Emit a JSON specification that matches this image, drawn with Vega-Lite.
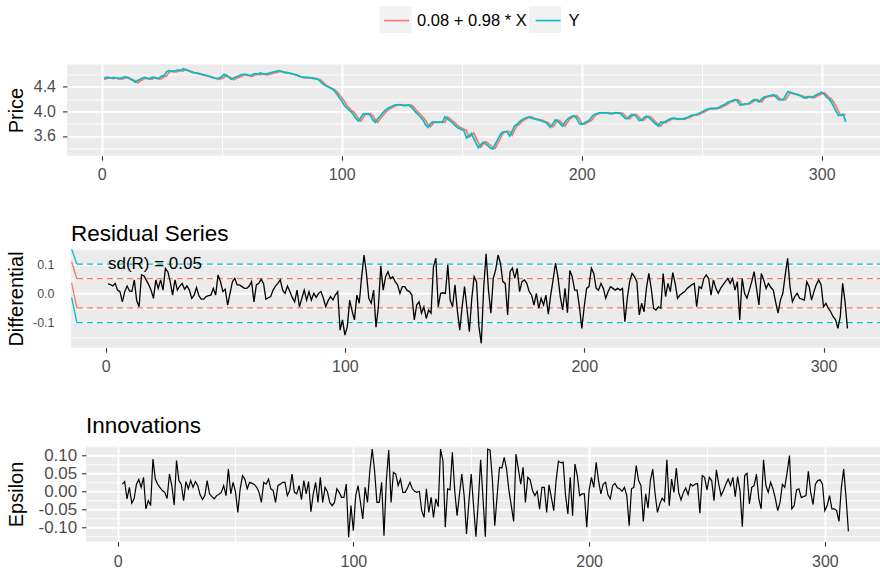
{
"$schema": "https://vega.github.io/schema/vega-lite/v6.json",
"background": "white",
"padding": {"left": 0, "top": 2.4, "right": 0, "bottom": 0},
"spacing": 39.9,
"align": "none",
"config": {
  "font": "Liberation Sans",
  "view": {"stroke": null, "fill": "#EBEBEB"},
  "axis": {"domain": false, "gridColor": "white", "tickColor": "#333333", "tickSize": 4.5, "tickWidth": 1.1, "labelColor": "#4D4D4D", "labelFont": "Liberation Sans", "labelFontSize": 16, "labelOverlap": false, "labelFlush": false, "labelBound": false, "titleFont": "Liberation Sans", "titleFontSize": 20, "titleFontWeight": "normal", "titleColor": "black"},
  "title": {"font": "Liberation Sans", "fontSize": 22.5, "fontWeight": "normal", "color": "black", "anchor": "start", "frame": "group", "baseline": "alphabetic"},
  "legend": {"labelFont": "Liberation Sans", "labelFontSize": 16.5, "labelColor": "black", "padding": 0}
},
"datasets": {
"ts": [
{"t":1,"Y":4.54,"F":4.52,"R":0.032},
{"t":2,"Y":4.55,"F":4.53,"R":0.030,"E":0.020},
{"t":3,"Y":4.55,"F":4.54,"R":0.025,"E":0.027},
{"t":4,"Y":4.54,"F":4.54,"R":0.034,"E":-0.021},
{"t":5,"Y":4.55,"F":4.53,"R":0.011,"E":0.011},
{"t":6,"Y":4.54,"F":4.54,"R":0.006,"E":-0.033},
{"t":7,"Y":4.53,"F":4.53,"R":-0.029,"E":-0.021},
{"t":8,"Y":4.54,"F":4.52,"R":0.006,"E":0.020},
{"t":9,"Y":4.55,"F":4.53,"R":0.025,"E":0.033},
{"t":10,"Y":4.56,"F":4.54,"R":0.008,"E":0.011},
{"t":11,"Y":4.54,"F":4.55,"R":0.006,"E":0.039},
{"t":12,"Y":4.52,"F":4.53,"R":0.046,"E":-0.049},
{"t":13,"Y":4.50,"F":4.51,"R":-0.025,"E":-0.026},
{"t":14,"Y":4.47,"F":4.49,"R":-0.046,"E":-0.040},
{"t":15,"Y":4.50,"F":4.46,"R":0.063,"E":0.090},
{"t":16,"Y":4.52,"F":4.49,"R":0.060,"E":0.034},
{"t":17,"Y":4.54,"F":4.51,"R":0.045,"E":0.020},
{"t":18,"Y":4.55,"F":4.53,"R":0.030,"E":0.010},
{"t":19,"Y":4.53,"F":4.54,"R":0.011,"E":0.002},
{"t":20,"Y":4.53,"F":4.52,"R":-0.017,"E":-0.003},
{"t":21,"Y":4.55,"F":4.52,"R":0.046,"E":-0.020},
{"t":22,"Y":4.55,"F":4.54,"R":0.017,"E":0.048},
{"t":23,"Y":4.53,"F":4.54,"R":0.046,"E":0.016},
{"t":24,"Y":4.54,"F":4.52,"R":0.011,"E":-0.038},
{"t":25,"Y":4.57,"F":4.53,"R":0.085,"E":0.086},
{"t":26,"Y":4.58,"F":4.56,"R":0.074,"E":0.030},
{"t":27,"Y":4.64,"F":4.57,"R":0.040,"E":0.020},
{"t":28,"Y":4.66,"F":4.63,"R":-0.006,"E":-0.026},
{"t":29,"Y":4.65,"F":4.65,"R":0.046,"E":0.027},
{"t":30,"Y":4.65,"F":4.64,"R":0.011,"E":0.007},
{"t":31,"Y":4.66,"F":4.64,"R":0.025,"E":0.030},
{"t":32,"Y":4.67,"F":4.65,"R":0.034,"E":0.011},
{"t":33,"Y":4.66,"F":4.66,"R":0.014,"E":0.027},
{"t":34,"Y":4.69,"F":4.65,"R":0.025,"E":0.016},
{"t":35,"Y":4.67,"F":4.68,"R":0.011,"E":-0.010},
{"t":36,"Y":4.66,"F":4.66,"R":-0.017,"E":-0.023},
{"t":37,"Y":4.64,"F":4.65,"R":-0.006,"E":-0.012},
{"t":38,"Y":4.63,"F":4.63,"R":0.020,"E":0.030},
{"t":39,"Y":4.62,"F":4.62,"R":-0.009,"E":-0.007},
{"t":40,"Y":4.62,"F":4.61,"R":-0.020,"E":-0.015},
{"t":41,"Y":4.60,"F":4.61,"R":-0.020,"E":-0.021},
{"t":42,"Y":4.60,"F":4.59,"R":-0.011,"E":-0.012},
{"t":43,"Y":4.58,"F":4.59,"R":-0.008,"E":-0.008},
{"t":44,"Y":4.58,"F":4.57,"R":-0.006,"E":-0.003},
{"t":45,"Y":4.56,"F":4.57,"R":0.017,"E":0.016},
{"t":46,"Y":4.55,"F":4.55,"R":-0.006,"E":-0.012},
{"t":47,"Y":4.54,"F":4.54,"R":0.063,"E":0.062},
{"t":48,"Y":4.53,"F":4.53,"R":0.040,"E":-0.007},
{"t":49,"Y":4.54,"F":4.52,"R":0.006,"E":0.025},
{"t":50,"Y":4.56,"F":4.53,"R":0.014,"E":-0.001},
{"t":51,"Y":4.60,"F":4.55,"R":-0.040,"E":-0.059},
{"t":52,"Y":4.57,"F":4.59,"R":0.000,"E":0.007},
{"t":53,"Y":4.55,"F":4.56,"R":0.040,"E":0.044},
{"t":54,"Y":4.52,"F":4.54,"R":0.051,"E":0.034},
{"t":55,"Y":4.54,"F":4.51,"R":0.029,"E":0.007},
{"t":56,"Y":4.56,"F":4.53,"R":0.029,"E":0.025},
{"t":57,"Y":4.57,"F":4.55,"R":0.023,"E":0.022},
{"t":58,"Y":4.59,"F":4.56,"R":0.017,"E":0.019},
{"t":59,"Y":4.60,"F":4.58,"R":0.017,"E":0.011},
{"t":60,"Y":4.60,"F":4.59,"R":0.025,"E":-0.003},
{"t":61,"Y":4.58,"F":4.59,"R":0.040,"E":-0.031},
{"t":62,"Y":4.58,"F":4.57,"R":-0.029,"E":0.025},
{"t":63,"Y":4.60,"F":4.57,"R":0.029,"E":0.020},
{"t":64,"Y":4.61,"F":4.59,"R":0.034,"E":0.034},
{"t":65,"Y":4.60,"F":4.60,"R":0.048,"E":0.007},
{"t":66,"Y":4.62,"F":4.59,"R":0.034,"E":0.002},
{"t":67,"Y":4.61,"F":4.61,"R":-0.020,"E":-0.031},
{"t":68,"Y":4.60,"F":4.60,"R":-0.015,"E":0.016},
{"t":69,"Y":4.61,"F":4.59,"R":-0.011,"E":0.020},
{"t":70,"Y":4.62,"F":4.60,"R":0.011,"E":0.025},
{"t":71,"Y":4.63,"F":4.61,"R":0.025,"E":0.025},
{"t":72,"Y":4.64,"F":4.62,"R":0.034,"E":-0.012},
{"t":73,"Y":4.65,"F":4.63,"R":0.046,"E":0.002},
{"t":74,"Y":4.66,"F":4.64,"R":0.011,"E":0.048},
{"t":75,"Y":4.64,"F":4.65,"R":0.000,"E":-0.003},
{"t":76,"Y":4.63,"F":4.63,"R":0.025,"E":-0.007},
{"t":77,"Y":4.63,"F":4.62,"R":0.006,"E":0.016},
{"t":78,"Y":4.62,"F":4.62,"R":-0.014,"E":-0.023},
{"t":79,"Y":4.61,"F":4.61,"R":-0.029,"E":0.030},
{"t":80,"Y":4.60,"F":4.60,"R":0.011,"E":-0.007},
{"t":81,"Y":4.59,"F":4.59,"R":-0.046,"E":0.027},
{"t":82,"Y":4.57,"F":4.58,"R":-0.017,"E":-0.057},
{"t":83,"Y":4.56,"F":4.56,"R":0.011,"E":-0.007},
{"t":84,"Y":4.55,"F":4.55,"R":-0.023,"E":0.025},
{"t":85,"Y":4.55,"F":4.54,"R":0.006,"E":-0.031},
{"t":86,"Y":4.55,"F":4.54,"R":-0.023,"E":0.039},
{"t":87,"Y":4.54,"F":4.54,"R":0.000,"E":-0.031},
{"t":88,"Y":4.54,"F":4.53,"R":-0.014,"E":0.011},
{"t":89,"Y":4.53,"F":4.53,"R":0.000,"E":-0.001},
{"t":90,"Y":4.52,"F":4.52,"R":0.006,"E":-0.031},
{"t":91,"Y":4.49,"F":4.51,"R":-0.017,"E":-0.040},
{"t":92,"Y":4.45,"F":4.48,"R":-0.046,"E":-0.031},
{"t":93,"Y":4.42,"F":4.44,"R":-0.025,"E":0.007},
{"t":94,"Y":4.40,"F":4.41,"R":-0.011,"E":-0.003},
{"t":95,"Y":4.38,"F":4.39,"R":-0.023,"E":-0.017},
{"t":96,"Y":4.36,"F":4.37,"R":-0.006,"E":-0.017},
{"t":97,"Y":4.33,"F":4.35,"R":0.006,"E":0.020},
{"t":98,"Y":4.28,"F":4.32,"R":-0.126,"E":-0.128},
{"t":99,"Y":4.22,"F":4.27,"R":-0.091,"E":-0.040},
{"t":100,"Y":4.17,"F":4.22,"R":-0.143,"E":-0.110},
{"t":101,"Y":4.10,"F":4.17,"R":-0.114,"E":-0.012},
{"t":102,"Y":4.06,"F":4.10,"R":-0.023,"E":0.016},
{"t":103,"Y":4.02,"F":4.06,"R":-0.060,"E":-0.030},
{"t":104,"Y":3.99,"F":4.02,"R":-0.091,"E":-0.077},
{"t":105,"Y":3.94,"F":3.99,"R":-0.006,"E":0.011},
{"t":106,"Y":3.88,"F":3.94,"R":-0.034,"E":-0.031},
{"t":107,"Y":3.84,"F":3.88,"R":0.057,"E":0.058},
{"t":108,"Y":3.90,"F":3.84,"R":0.131,"E":0.118},
{"t":109,"Y":3.96,"F":3.90,"R":0.068,"E":0.058},
{"t":110,"Y":3.95,"F":3.96,"R":-0.017,"E":-0.031},
{"t":111,"Y":3.96,"F":3.95,"R":-0.034,"E":-0.031},
{"t":112,"Y":3.93,"F":3.96,"R":0.011,"E":0.025},
{"t":113,"Y":3.86,"F":3.93,"R":-0.116,"E":-0.124},
{"t":114,"Y":3.82,"F":3.86,"R":-0.046,"E":0.030},
{"t":115,"Y":3.88,"F":3.82,"R":0.094,"E":0.115},
{"t":116,"Y":3.92,"F":3.88,"R":0.011,"E":-0.031},
{"t":117,"Y":3.97,"F":3.92,"R":0.057,"E":0.053},
{"t":118,"Y":4.01,"F":3.97,"R":0.074,"E":0.048},
{"t":119,"Y":4.04,"F":4.01,"R":0.051,"E":0.016},
{"t":120,"Y":4.06,"F":4.04,"R":0.057,"E":0.034},
{"t":121,"Y":4.08,"F":4.06,"R":0.040,"E":-0.003},
{"t":122,"Y":4.10,"F":4.08,"R":0.029,"E":-0.003},
{"t":123,"Y":4.10,"F":4.10,"R":0.000,"E":0.010},
{"t":124,"Y":4.11,"F":4.10,"R":0.023,"E":0.025},
{"t":125,"Y":4.10,"F":4.11,"R":0.023,"E":0.007},
{"t":126,"Y":4.09,"F":4.10,"R":0.010,"E":0.000},
{"t":127,"Y":4.10,"F":4.09,"R":0.006,"E":-0.003},
{"t":128,"Y":4.10,"F":4.10,"R":-0.006,"E":0.000},
{"t":129,"Y":4.07,"F":4.10,"R":-0.091,"E":-0.054},
{"t":130,"Y":4.02,"F":4.07,"R":-0.040,"E":-0.073},
{"t":131,"Y":3.98,"F":4.02,"R":-0.029,"E":0.007},
{"t":132,"Y":3.94,"F":3.98,"R":-0.068,"E":-0.059},
{"t":133,"Y":3.90,"F":3.94,"R":-0.046,"E":-0.017},
{"t":134,"Y":3.85,"F":3.90,"R":-0.086,"E":-0.073},
{"t":135,"Y":3.78,"F":3.85,"R":-0.057,"E":-0.021},
{"t":136,"Y":3.74,"F":3.78,"R":-0.068,"E":-0.043},
{"t":137,"Y":3.80,"F":3.75,"R":0.091,"E":0.118},
{"t":138,"Y":3.83,"F":3.80,"R":0.120,"E":0.086},
{"t":139,"Y":3.82,"F":3.83,"R":-0.046,"E":-0.100},
{"t":140,"Y":3.82,"F":3.82,"R":0.000,"E":0.007},
{"t":141,"Y":3.83,"F":3.82,"R":0.002,"E":0.004},
{"t":142,"Y":3.82,"F":3.83,"R":0.000,"E":0.109},
{"t":143,"Y":3.91,"F":3.82,"R":0.097,"E":0.002},
{"t":144,"Y":3.88,"F":3.91,"R":-0.023,"E":-0.068},
{"t":145,"Y":3.85,"F":3.88,"R":-0.046,"E":-0.010},
{"t":146,"Y":3.82,"F":3.85,"R":0.029,"E":0.048},
{"t":147,"Y":3.78,"F":3.82,"R":-0.060,"E":-0.012},
{"t":148,"Y":3.74,"F":3.78,"R":-0.126,"E":-0.119},
{"t":149,"Y":3.72,"F":3.75,"R":-0.046,"E":-0.031},
{"t":150,"Y":3.70,"F":3.73,"R":0.023,"E":0.048},
{"t":151,"Y":3.68,"F":3.71,"R":-0.051,"E":-0.040},
{"t":152,"Y":3.57,"F":3.69,"R":-0.131,"E":-0.127},
{"t":153,"Y":3.60,"F":3.58,"R":-0.020,"E":-0.031},
{"t":154,"Y":3.64,"F":3.61,"R":0.057,"E":0.088},
{"t":155,"Y":3.56,"F":3.65,"R":0.040,"E":-0.020},
{"t":156,"Y":3.48,"F":3.57,"R":-0.114,"E":-0.127},
{"t":157,"Y":3.41,"F":3.49,"R":-0.171,"E":0.118},
{"t":158,"Y":3.46,"F":3.42,"R":0.020,"E":0.115},
{"t":159,"Y":3.50,"F":3.47,"R":0.135,"E":0.030},
{"t":160,"Y":3.47,"F":3.51,"R":0.011,"E":-0.096},
{"t":161,"Y":3.44,"F":3.48,"R":-0.068,"E":-0.012},
{"t":162,"Y":3.40,"F":3.45,"R":0.051,"E":0.067},
{"t":163,"Y":3.39,"F":3.41,"R":0.080,"E":0.065},
{"t":164,"Y":3.47,"F":3.40,"R":0.131,"E":0.095},
{"t":165,"Y":3.54,"F":3.48,"R":0.103,"E":0.062},
{"t":166,"Y":3.62,"F":3.55,"R":0.040,"E":0.002},
{"t":167,"Y":3.66,"F":3.63,"R":0.034,"E":-0.040},
{"t":168,"Y":3.67,"F":3.67,"R":-0.074,"E":-0.084},
{"t":169,"Y":3.66,"F":3.68,"R":0.074,"E":0.104},
{"t":170,"Y":3.60,"F":3.67,"R":0.086,"E":0.062},
{"t":171,"Y":3.68,"F":3.61,"R":0.051,"E":0.020},
{"t":172,"Y":3.76,"F":3.69,"R":0.086,"E":0.067},
{"t":173,"Y":3.79,"F":3.76,"R":0.006,"E":-0.031},
{"t":174,"Y":3.83,"F":3.79,"R":0.040,"E":0.039},
{"t":175,"Y":3.86,"F":3.83,"R":0.046,"E":0.032},
{"t":176,"Y":3.88,"F":3.86,"R":0.034,"E":0.002},
{"t":177,"Y":3.90,"F":3.88,"R":0.006,"E":-0.012},
{"t":178,"Y":3.91,"F":3.90,"R":-0.006,"E":0.000},
{"t":179,"Y":3.89,"F":3.91,"R":-0.040,"E":-0.050},
{"t":180,"Y":3.88,"F":3.89,"R":0.000,"E":0.011},
{"t":181,"Y":3.87,"F":3.88,"R":-0.051,"E":0.011},
{"t":182,"Y":3.86,"F":3.87,"R":-0.017,"E":-0.059},
{"t":183,"Y":3.85,"F":3.86,"R":-0.040,"E":0.018},
{"t":184,"Y":3.83,"F":3.85,"R":-0.006,"E":-0.017},
{"t":185,"Y":3.82,"F":3.83,"R":-0.071,"E":-0.054},
{"t":186,"Y":3.78,"F":3.82,"R":-0.006,"E":0.030},
{"t":187,"Y":3.74,"F":3.78,"R":0.046,"E":0.084},
{"t":188,"Y":3.80,"F":3.75,"R":0.103,"E":0.080},
{"t":189,"Y":3.86,"F":3.80,"R":0.057,"E":0.081},
{"t":190,"Y":3.84,"F":3.86,"R":-0.011,"E":-0.010},
{"t":191,"Y":3.80,"F":3.84,"R":-0.057,"E":-0.063},
{"t":192,"Y":3.76,"F":3.80,"R":0.017,"E":0.039},
{"t":193,"Y":3.82,"F":3.76,"R":-0.066,"E":-0.068},
{"t":194,"Y":3.87,"F":3.82,"R":0.078,"E":0.076},
{"t":195,"Y":3.90,"F":3.87,"R":0.057,"E":0.044},
{"t":196,"Y":3.92,"F":3.90,"R":0.011,"E":-0.012},
{"t":197,"Y":3.93,"F":3.92,"R":0.011,"E":-0.007},
{"t":198,"Y":3.88,"F":3.93,"R":-0.046,"E":-0.007},
{"t":199,"Y":3.80,"F":3.88,"R":-0.120,"E":-0.100},
{"t":200,"Y":3.79,"F":3.80,"R":-0.046,"E":0.002},
{"t":201,"Y":3.81,"F":3.79,"R":0.017,"E":0.039},
{"t":202,"Y":3.83,"F":3.81,"R":0.023,"E":0.011},
{"t":203,"Y":3.85,"F":3.83,"R":0.086,"E":0.081},
{"t":204,"Y":3.90,"F":3.85,"R":0.068,"E":0.030},
{"t":205,"Y":3.94,"F":3.90,"R":0.017,"E":-0.007},
{"t":206,"Y":3.96,"F":3.94,"R":0.011,"E":0.020},
{"t":207,"Y":3.97,"F":3.96,"R":0.034,"E":0.025},
{"t":208,"Y":3.98,"F":3.97,"R":0.017,"E":-0.010},
{"t":209,"Y":3.97,"F":3.98,"R":-0.017,"E":-0.021},
{"t":210,"Y":3.98,"F":3.97,"R":0.006,"E":0.016},
{"t":211,"Y":3.97,"F":3.98,"R":0.023,"E":0.022},
{"t":212,"Y":3.96,"F":3.97,"R":0.017,"E":0.010},
{"t":213,"Y":3.97,"F":3.96,"R":0.011,"E":0.007},
{"t":214,"Y":3.98,"F":3.97,"R":0.017,"E":0.000},
{"t":215,"Y":3.97,"F":3.98,"R":0.011,"E":0.011},
{"t":216,"Y":3.97,"F":3.97,"R":0.017,"E":-0.012},
{"t":217,"Y":3.93,"F":3.97,"R":-0.097,"E":-0.096},
{"t":218,"Y":3.89,"F":3.93,"R":-0.017,"E":0.007},
{"t":219,"Y":3.88,"F":3.89,"R":0.040,"E":0.011},
{"t":220,"Y":3.92,"F":3.88,"R":0.068,"E":0.072},
{"t":221,"Y":3.95,"F":3.92,"R":0.057,"E":0.030},
{"t":222,"Y":3.94,"F":3.95,"R":0.040,"E":0.016},
{"t":223,"Y":3.90,"F":3.94,"R":-0.074,"E":-0.084},
{"t":224,"Y":3.85,"F":3.90,"R":-0.034,"E":-0.007},
{"t":225,"Y":3.86,"F":3.85,"R":-0.063,"E":-0.047},
{"t":226,"Y":3.90,"F":3.86,"R":0.017,"E":0.030},
{"t":227,"Y":3.92,"F":3.90,"R":0.068,"E":0.062},
{"t":228,"Y":3.90,"F":3.92,"R":0.017,"E":-0.007},
{"t":229,"Y":3.86,"F":3.90,"R":-0.051,"E":-0.059},
{"t":230,"Y":3.82,"F":3.86,"R":-0.057,"E":-0.035},
{"t":231,"Y":3.79,"F":3.82,"R":-0.046,"E":-0.019},
{"t":232,"Y":3.76,"F":3.79,"R":-0.051,"E":-0.028},
{"t":233,"Y":3.83,"F":3.76,"R":0.068,"E":0.088},
{"t":234,"Y":3.81,"F":3.83,"R":-0.011,"E":-0.040},
{"t":235,"Y":3.84,"F":3.81,"R":0.034,"E":0.034},
{"t":236,"Y":3.86,"F":3.84,"R":0.006,"E":-0.003},
{"t":237,"Y":3.88,"F":3.86,"R":0.071,"E":0.065},
{"t":238,"Y":3.89,"F":3.88,"R":0.034,"E":-0.003},
{"t":239,"Y":3.88,"F":3.89,"R":-0.017,"E":-0.024},
{"t":240,"Y":3.87,"F":3.88,"R":-0.006,"E":-0.003},
{"t":241,"Y":3.88,"F":3.87,"R":0.000,"E":0.009},
{"t":242,"Y":3.87,"F":3.88,"R":0.006,"E":-0.009},
{"t":243,"Y":3.89,"F":3.87,"R":0.017,"E":0.020},
{"t":244,"Y":3.90,"F":3.89,"R":0.023,"E":0.015},
{"t":245,"Y":3.92,"F":3.90,"R":0.030,"E":0.020},
{"t":246,"Y":3.94,"F":3.92,"R":0.034,"E":0.022},
{"t":247,"Y":3.94,"F":3.94,"R":-0.046,"E":-0.061},
{"t":248,"Y":3.95,"F":3.94,"R":0.023,"E":0.044},
{"t":249,"Y":3.97,"F":3.95,"R":0.017,"E":0.039},
{"t":250,"Y":3.99,"F":3.97,"R":0.051,"E":0.004},
{"t":251,"Y":4.01,"F":3.99,"R":0.063,"E":0.039},
{"t":252,"Y":4.03,"F":4.01,"R":0.051,"E":0.030},
{"t":253,"Y":4.04,"F":4.03,"R":-0.006,"E":-0.026},
{"t":254,"Y":4.05,"F":4.04,"R":0.046,"E":0.060},
{"t":255,"Y":4.04,"F":4.05,"R":0.017,"E":0.020},
{"t":256,"Y":4.05,"F":4.04,"R":0.000,"E":-0.012},
{"t":257,"Y":4.06,"F":4.05,"R":0.017,"E":0.002},
{"t":258,"Y":4.08,"F":4.06,"R":0.029,"E":0.020},
{"t":259,"Y":4.10,"F":4.08,"R":0.040,"E":0.034},
{"t":260,"Y":4.12,"F":4.10,"R":0.051,"E":0.016},
{"t":261,"Y":4.15,"F":4.12,"R":0.034,"E":0.039},
{"t":262,"Y":4.16,"F":4.15,"R":0.051,"E":-0.015},
{"t":263,"Y":4.18,"F":4.16,"R":0.011,"E":0.041},
{"t":264,"Y":4.19,"F":4.18,"R":0.040,"E":0.002},
{"t":265,"Y":4.16,"F":4.19,"R":-0.091,"E":-0.099},
{"t":266,"Y":4.10,"F":4.16,"R":0.051,"E":0.044},
{"t":267,"Y":4.11,"F":4.10,"R":0.000,"E":0.050},
{"t":268,"Y":4.12,"F":4.11,"R":-0.017,"E":-0.035},
{"t":269,"Y":4.12,"F":4.12,"R":0.011,"E":0.011},
{"t":270,"Y":4.14,"F":4.12,"R":0.040,"E":0.016},
{"t":271,"Y":4.17,"F":4.14,"R":0.074,"E":0.048},
{"t":272,"Y":4.19,"F":4.17,"R":0.017,"E":-0.021},
{"t":273,"Y":4.17,"F":4.19,"R":-0.040,"E":-0.049},
{"t":274,"Y":4.15,"F":4.17,"R":0.068,"E":0.088},
{"t":275,"Y":4.20,"F":4.15,"R":0.046,"E":0.016},
{"t":276,"Y":4.23,"F":4.20,"R":0.017,"E":-0.003},
{"t":277,"Y":4.24,"F":4.23,"R":0.034,"E":0.025},
{"t":278,"Y":4.25,"F":4.24,"R":0.020,"E":0.007},
{"t":279,"Y":4.26,"F":4.24,"R":0.011,"E":-0.020},
{"t":280,"Y":4.27,"F":4.25,"R":-0.030,"E":-0.054},
{"t":281,"Y":4.23,"F":4.26,"R":-0.068,"E":-0.031},
{"t":282,"Y":4.19,"F":4.23,"R":-0.023,"E":0.019},
{"t":283,"Y":4.19,"F":4.19,"R":0.000,"E":0.011},
{"t":284,"Y":4.19,"F":4.19,"R":0.063,"E":0.053},
{"t":285,"Y":4.26,"F":4.19,"R":0.120,"E":0.100},
{"t":286,"Y":4.32,"F":4.25,"R":0.023,"E":-0.049},
{"t":287,"Y":4.30,"F":4.31,"R":-0.029,"E":-0.040},
{"t":288,"Y":4.29,"F":4.29,"R":-0.011,"E":0.004},
{"t":289,"Y":4.28,"F":4.28,"R":0.000,"E":0.007},
{"t":290,"Y":4.27,"F":4.27,"R":-0.017,"E":-0.017},
{"t":291,"Y":4.25,"F":4.26,"R":-0.020,"E":-0.015},
{"t":292,"Y":4.23,"F":4.25,"R":-0.023,"E":-0.012},
{"t":293,"Y":4.21,"F":4.23,"R":0.040,"E":0.056},
{"t":294,"Y":4.24,"F":4.21,"R":0.023,"E":-0.003},
{"t":295,"Y":4.24,"F":4.24,"R":-0.023,"E":-0.037},
{"t":296,"Y":4.22,"F":4.24,"R":0.006,"E":0.020},
{"t":297,"Y":4.25,"F":4.22,"R":0.030,"E":0.030},
{"t":298,"Y":4.27,"F":4.25,"R":0.046,"E":0.032},
{"t":299,"Y":4.29,"F":4.26,"R":0.029,"E":0.020},
{"t":300,"Y":4.31,"F":4.28,"R":-0.046,"E":-0.054},
{"t":301,"Y":4.28,"F":4.30,"R":-0.034,"E":-0.040},
{"t":302,"Y":4.23,"F":4.27,"R":-0.051,"E":-0.012},
{"t":303,"Y":4.20,"F":4.23,"R":-0.063,"E":-0.049},
{"t":304,"Y":4.15,"F":4.20,"R":-0.080,"E":-0.049},
{"t":305,"Y":4.08,"F":4.15,"R":-0.090,"E":-0.054},
{"t":306,"Y":4.00,"F":4.08,"R":-0.120,"E":-0.084},
{"t":307,"Y":3.93,"F":4.00,"R":-0.080,"E":0.010},
{"t":308,"Y":3.94,"F":3.93,"R":0.034,"E":0.062},
{"t":309,"Y":3.95,"F":3.94,"R":-0.029,"E":-0.017},
{"t":310,"Y":3.83,"F":3.95,"R":-0.120,"E":-0.112}
],
"sd": [
{"k":"2sd","y0":0.152,"y":0.1},
{"k":"1sd","y0":0.108,"y":0.05},
{"k":"1sd","y0":0.036,"y":-0.05},
{"k":"2sd","y0":-0.014,"y":-0.1}
],
"ann": [
{"t":1,"v":0.1,"label":"sd(R) = 0.05"}
]
},
"vconcat": [
{
"spacing": 39.9,
"align": "none",
"vconcat": [
{"spacing": 66, "align": "none", "bounds": "flush", "hconcat": [
{"width": 1, "height": 1, "data": {"values": []}, "mark": {"type": "point", "filled": true, "opacity": 1}, "view": {"fill": null, "stroke": null},
 "encoding": {
   "fill": {"field": "k", "type": "nominal", "scale": {"domain": ["F2","Y2"], "range": ["#F2F2F2","#F2F2F2"]},
     "legend": {"orient": "none", "legendX": 379.6, "legendY": -61.1, "direction": "horizontal", "title": null,
       "symbolType": "M-1,-0.834H1V0.834H-1Z", "symbolSize": 1024, "symbolStrokeWidth": 0, "symbolOpacity": 1,
       "labelExpr": "datum.label == 'F2' ? '0.08 + 0.98 * X' : 'Y'", "labelOpacity": 0,
       "labelOffset": 3.5, "columnPadding": 3.5, "padding": 0}}
 }},
{
  "width": 813, "height": 91.3,
  "data": {"name": "ts"},
  "transform": [{"fold": ["F","Y"], "as": ["series","value"]}],
  "mark": {"type": "line", "strokeWidth": 1.7, "clip": true},
  "encoding": {
    "x": {"field": "t", "type": "quantitative", "scale": {"domain": [-14.45, 324.3], "nice": false, "zero": false},
      "axis": {"values": [0,50,100,150,200,250,300], "title": null, "labelPadding": 6,
        "labelExpr": "datum.value % 100 == 0 ? datum.label : ''",
        "labelFontSize": {"condition": {"test": "datum.value % 100 == 0", "value": 16}, "value": 0},
        "tickOpacity": {"condition": {"test": "datum.value % 100 == 0", "value": 1}, "value": 0},
        "gridWidth": {"condition": {"test": "datum.value % 100 == 0", "value": 1.9}, "value": 0.9}}},
    "y": {"field": "value", "type": "quantitative", "scale": {"domain": [3.281, 4.7595], "nice": false, "zero": false},
      "axis": {"values": [3.4,3.6,3.8,4,4.2,4.4,4.6], "title": "Price", "labelPadding": 7, "minExtent": 34, "maxExtent": 34, "titlePadding": 7,
        "labelExpr": "round(datum.value*10) % 4 == 0 ? format(datum.value, '.1f') : ''",
        "labelFontSize": {"condition": {"test": "round(datum.value*10) % 4 == 0", "value": 16}, "value": 0},
        "tickOpacity": {"condition": {"test": "round(datum.value*10) % 4 == 0", "value": 1}, "value": 0},
        "gridWidth": {"condition": {"test": "round(datum.value*10) % 4 == 0", "value": 1.9}, "value": 0.9}}},
    "stroke": {"field": "series", "type": "nominal", "scale": {"domain": ["F","Y"], "range": ["#F8766D","#00BFC4"]},
      "legend": {"orient": "none", "legendX": 379.6, "legendY": -61.1, "direction": "horizontal", "title": null,
        "symbolType": "M-0.78,0H0.78", "symbolSize": 1024, "symbolStrokeWidth": 1.6,
        "labelExpr": "datum.label == 'F' ? '0.08 + 0.98 * X' : 'Y'",
        "labelOffset": 3.5, "columnPadding": 3.5, "padding": 0}}
  }
}
]},
{"spacing": 70, "align": "none", "bounds": "flush", "hconcat": [
{"width": 1, "height": 1, "data": {"values": []}, "mark": {"type": "point", "opacity": 0}, "view": {"fill": null, "stroke": null}},
{
  "width": 809, "height": 98.4,
  "title": {"text": "Residual Series", "offset": 4.1},
  "encoding": {
    "y": {"field": "R", "type": "quantitative", "scale": {"domain": [-0.186, 0.1507], "nice": false, "zero": false},
      "axis": {"values": [-0.15,-0.1,-0.05,0,0.05,0.1,0.15], "title": "Differential", "labelPadding": 12.5,
        "minExtent": 40, "maxExtent": 40, "titlePadding": 5, "tickOpacity": 0,
        "labelFontSize": {"condition": {"test": "round(datum.value*100) % 10 == 0", "value": 12.5}, "value": 0},
        "labelExpr": "round(datum.value*100) % 10 == 0 ? replace(format(datum.value, '.1f'), '\u2212', '-') : ''",
        "gridWidth": {"condition": {"test": "round(datum.value*100) % 10 == 0", "value": 1.9}, "value": 0.9}}}
  },
  "layer": [
    {
      "data": {"name": "sd"},
      "transform": [{"filter": "datum.k == '1sd'"}],
      "mark": {"type": "rule", "strokeWidth": 1.3, "clip": true, "color": "#F8766D"},
      "encoding": {
        "x": {"datum": -14.2, "type": "quantitative", "scale": {"domain": [-14.45, 323.6], "nice": false, "zero": false}},
        "x2": {"datum": -12},
        "y": {"field": "y0", "type": "quantitative"},
        "y2": {"field": "y"}
      }
    },
    {
      "data": {"name": "sd"},
      "transform": [{"filter": "datum.k == '2sd'"}],
      "mark": {"type": "rule", "strokeWidth": 1.3, "clip": true, "color": "#00BFC4"},
      "encoding": {
        "x": {"datum": -14.2, "type": "quantitative", "scale": {"domain": [-14.45, 323.6], "nice": false, "zero": false}},
        "x2": {"datum": -12},
        "y": {"field": "y0", "type": "quantitative"},
        "y2": {"field": "y"}
      }
    },
    {
      "data": {"name": "sd"},
      "transform": [{"filter": "datum.k == '1sd'"}],
      "mark": {"type": "rule", "strokeWidth": 1.3, "strokeDash": [6,4], "color": "#F8766D"},
      "encoding": {
        "x": {"datum": -12, "type": "quantitative", "scale": {"domain": [-14.45, 323.6], "nice": false, "zero": false}},
        "x2": {"datum": 323.6},
        "y": {"field": "y", "type": "quantitative"}
      }
    },
    {
      "data": {"name": "sd"},
      "transform": [{"filter": "datum.k == '2sd'"}],
      "mark": {"type": "rule", "strokeWidth": 1.3, "strokeDash": [6,4], "color": "#00BFC4"},
      "encoding": {
        "x": {"datum": -12, "type": "quantitative", "scale": {"domain": [-14.45, 323.6], "nice": false, "zero": false}},
        "x2": {"datum": 323.6},
        "y": {"field": "y", "type": "quantitative"}
      }
    },
    {
      "data": {"name": "ts"},
      "mark": {"type": "line", "color": "black", "strokeWidth": 1.3},
      "encoding": {
        "x": {"field": "t", "type": "quantitative", "scale": {"domain": [-14.45, 323.6], "nice": false, "zero": false},
          "axis": {"values": [0,50,100,150,200,250,300], "title": null, "labelPadding": 6.5,
            "labelExpr": "datum.value % 100 == 0 ? datum.label : ''",
            "labelFontSize": {"condition": {"test": "datum.value % 100 == 0", "value": 16}, "value": 0},
            "tickOpacity": {"condition": {"test": "datum.value % 100 == 0", "value": 1}, "value": 0},
            "gridWidth": {"condition": {"test": "datum.value % 100 == 0", "value": 1.9}, "value": 0.9}}}
      }
    },
    {
      "data": {"name": "ann"},
      "mark": {"type": "text", "align": "left", "baseline": "middle", "fontSize": 17, "font": "Liberation Sans", "color": "black"},
      "encoding": {
        "x": {"field": "t", "type": "quantitative", "scale": {"domain": [-14.45, 323.6], "nice": false, "zero": false}},
        "y": {"field": "v", "type": "quantitative"},
        "text": {"field": "label"}
      }
    }
  ]
}
]}
]
},
{"spacing": 85, "align": "none", "bounds": "flush", "hconcat": [
{"width": 1, "height": 1, "data": {"values": []}, "mark": {"type": "point", "opacity": 0}, "view": {"fill": null, "stroke": null}},
{
  "width": 794, "height": 95.3,
  "title": {"text": "Innovations", "offset": 8.4},
  "data": {"name": "ts"},
  "transform": [{"filter": "isValid(datum.E)"}],
  "mark": {"type": "line", "color": "black", "strokeWidth": 1.2},
  "encoding": {
    "x": {"field": "t", "type": "quantitative", "scale": {"domain": [-13.4, 323.4], "nice": false, "zero": false},
      "axis": {"values": [0,50,100,150,200,250,300], "title": null, "labelPadding": 7,
        "labelExpr": "datum.value % 100 == 0 ? datum.label : ''",
        "labelFontSize": {"condition": {"test": "datum.value % 100 == 0", "value": 16}, "value": 0},
        "tickOpacity": {"condition": {"test": "datum.value % 100 == 0", "value": 1}, "value": 0},
        "gridWidth": {"condition": {"test": "datum.value % 100 == 0", "value": 1.9}, "value": 0.9}}},
    "y": {"field": "E", "type": "quantitative", "scale": {"domain": [-0.1405, 0.1257], "nice": false, "zero": false},
      "axis": {"values": [-0.125,-0.1,-0.075,-0.05,-0.025,0,0.025,0.05,0.075,0.1,0.125], "title": "Epsilon", "labelPadding": 4.8,
        "minExtent": 49, "maxExtent": 49, "titlePadding": 11,
        "labelExpr": "round(datum.value*1000) % 50 == 0 ? replace(format(datum.value, '.2f'), '\u2212', '-') : ''",
        "labelFontSize": {"condition": {"test": "round(datum.value*1000) % 50 == 0", "value": 17}, "value": 0},
        "tickOpacity": {"condition": {"test": "round(datum.value*1000) % 50 == 0", "value": 1}, "value": 0},
        "gridWidth": {"condition": {"test": "round(datum.value*1000) % 50 == 0", "value": 1.9}, "value": 0.9}}}
  }
}
]}
]
}
